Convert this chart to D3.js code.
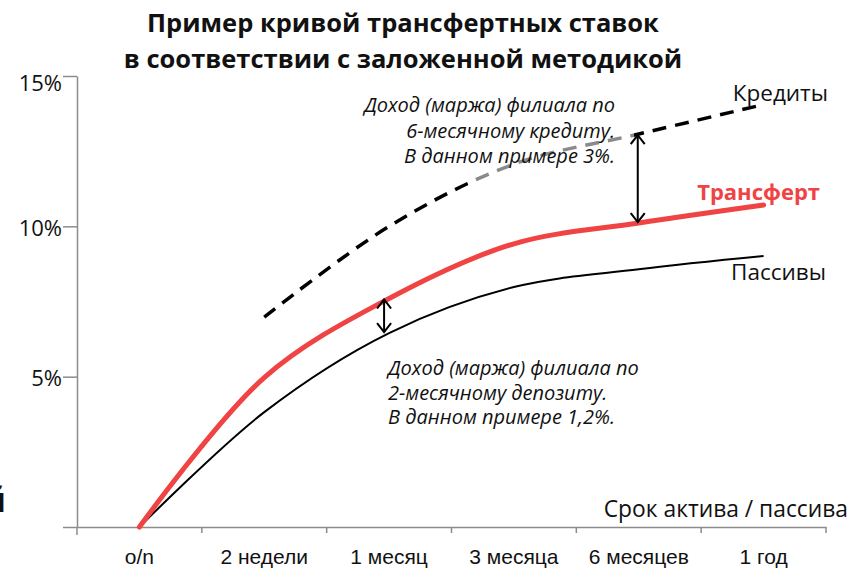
<!DOCTYPE html>
<html lang="ru">
<head>
<meta charset="utf-8">
<script src="https://d3js.org/d3.v7.min.js"></script>
<style>
  * { margin: 0; padding: 0; }
  body { background: #fff; }
  text { font-family: "Open Sans", sans-serif; fill: #111; }
  .tick text.xlab { font-family: "Liberation Sans", Arial, sans-serif; }
</style>
</head>
<body>
<script>
const categories = ['o/n', '2 недели', '1 месяц', '3 месяца', '6 месяцев', '1 год'];
const transferRates = [0, 4.97, 7.6, 9.42, 10.11, 10.71];
const liabilityRates = [0, 3.82, 6.45, 7.98, 8.57, 9.01];
const creditRates = [null, 6.98, 10.0, 12.07, 13.07, 14.05];
const yTicks = [0, 5, 10, 15];
const titleLines = ['Пример кривой трансфертных ставок', 'в соответствии с заложенной методикой'];
const creditNote = ['Доход (маржа) филиала по', '6-месячному кредиту.', 'В данном примере 3%.'];
const depositNote = ['Доход (маржа) филиала по', '2-месячному депозиту.', 'В данном примере 1,2%.'];

const width = 850, height = 570;
const axisColor = '#8c8c8c';
const red = '#f04444';

const svg = d3.select('body').append('svg')
  .attr('width', width)
  .attr('height', height);

const x = d3.scaleBand().domain(categories).range([77, 826]);
const xc = d => x(d) + x.bandwidth() / 2;
const y = d3.scaleLinear().domain([0, 15]).range([527, 76]);

// title
svg.append('g').selectAll('text')
  .data(titleLines)
  .join('text')
  .attr('x', 403)
  .attr('y', (d, i) => 32 + i * 36)
  .attr('text-anchor', 'middle')
  .attr('font-weight', 'bold')
  .attr('font-size', 25.5)
  .text(d => d);

// label cut off by the left edge (as in the source slide)
svg.append('text')
  .attr('x', 6).attr('y', 512)
  .attr('text-anchor', 'end')
  .attr('font-weight', 'bold')
  .attr('font-size', 34)
  .text('й');

// y axis
const yAxis = svg.append('g')
  .attr('transform', 'translate(77,0)')
  .call(d3.axisLeft(y).tickValues(yTicks).tickSize(14).tickSizeOuter(0).tickPadding(1)
    .tickFormat(d => d ? d + '%' : ''));
yAxis.selectAll('path, line').attr('stroke', axisColor).attr('stroke-width', 1.5);
yAxis.selectAll('text')
  .attr('font-size', 22)
  .attr('font-family', '"Open Sans", sans-serif')
  .attr('fill', '#111')
  .attr('dy', d => d === 15 ? '0.68em' : '0.4em');

// x axis
const xAxis = svg.append('g')
  .attr('transform', 'translate(0,527)')
  .call(d3.axisBottom(x).tickSize(0).tickSizeOuter(0).tickPadding(22));
xAxis.select('.domain').attr('stroke', axisColor).attr('stroke-width', 1.5);
xAxis.selectAll('text')
  .attr('class', 'xlab')
  .attr('font-size', 21)
  .attr('fill', '#111');

// category boundary ticks
svg.append('g').selectAll('line')
  .data(categories.map(x).concat([x.range()[1]]))
  .join('line')
  .attr('x1', d => d).attr('x2', d => d)
  .attr('y1', 527).attr('y2', (d, i) => i === 0 ? 535 : 533)
  .attr('stroke', axisColor)
  .attr('stroke-width', 1.5);

svg.append('text')
  .attr('x', 848).attr('y', 517)
  .attr('text-anchor', 'end')
  .attr('font-size', 22.8)
  .text('Срок актива / пассива');

// lines
const line = d3.line()
  .defined(d => d.v != null)
  .x(d => xc(d.c))
  .y(d => y(d.v))
  .curve(d3.curveCatmullRom.alpha(0.5));
const rows = arr => categories.map((c, i) => ({ c, v: arr[i] }));

// credit line: grey between 1 and 6 months
const grayFrom = xc(categories[2]) + x.step() * 0.63;
const grayTo = xc(categories[4]) - 5;
const grad = svg.append('defs').append('linearGradient')
  .attr('id', 'creditStroke')
  .attr('gradientUnits', 'userSpaceOnUse')
  .attr('x1', 0).attr('x2', width).attr('y1', 0).attr('y2', 0);
[[0, '#000'], [grayFrom, '#000'], [grayFrom, '#8a8a8a'], [grayTo, '#8a8a8a'], [grayTo, '#000'], [width, '#000']]
  .forEach(([o, c]) => grad.append('stop').attr('offset', o / width).attr('stop-color', c));

svg.append('path')
  .attr('d', line(rows(creditRates)))
  .attr('fill', 'none')
  .attr('stroke', 'url(#creditStroke)')
  .attr('stroke-width', 3.5)
  .attr('stroke-dasharray', '14,9');

svg.append('path')
  .attr('d', line(rows(liabilityRates)))
  .attr('fill', 'none')
  .attr('stroke', '#000')
  .attr('stroke-width', 2);

svg.append('path')
  .attr('d', line(rows(transferRates)))
  .attr('fill', 'none')
  .attr('stroke', red)
  .attr('stroke-width', 5)
  .attr('stroke-linecap', 'round');

// series labels
svg.append('text').attr('x', 828).attr('y', 101).attr('text-anchor', 'end')
  .attr('font-size', 22.5).text('Кредиты');
svg.append('text').attr('x', 820).attr('y', 200).attr('text-anchor', 'end')
  .attr('font-size', 22).attr('font-weight', 'bold').style('fill', red).text('Трансферт');
svg.append('text').attr('x', 826).attr('y', 280).attr('text-anchor', 'end')
  .attr('font-size', 22.5).text('Пассивы');

// double arrows
svg.append('defs').append('marker')
  .attr('id', 'chev')
  .attr('viewBox', '-10 -8 12 16')
  .attr('refX', 0).attr('refY', 0)
  .attr('markerWidth', 12).attr('markerHeight', 16)
  .attr('markerUnits', 'userSpaceOnUse')
  .attr('orient', 'auto-start-reverse')
  .append('path')
  .attr('d', 'M-9,-7L0,0L-9,7')
  .attr('fill', 'none')
  .attr('stroke', '#000')
  .attr('stroke-width', 2);

const arrows = [
  { c: categories[2], from: transferRates[2], to: liabilityRates[2], dx: -5 },
  { c: categories[4], from: creditRates[4], to: transferRates[4], dx: -1 }
];
svg.append('g').selectAll('line')
  .data(arrows)
  .join('line')
  .attr('x1', d => xc(d.c) + d.dx).attr('x2', d => xc(d.c) + d.dx)
  .attr('y1', d => y(d.from) + 1).attr('y2', d => y(d.to) - 1)
  .attr('stroke', '#000')
  .attr('stroke-width', 2)
  .attr('marker-start', 'url(#chev)')
  .attr('marker-end', 'url(#chev)');

// notes
svg.append('g').selectAll('text')
  .data(creditNote)
  .join('text')
  .attr('x', 615)
  .attr('y', (d, i) => 112 + i * 25.5)
  .attr('text-anchor', 'end')
  .attr('font-style', 'italic')
  .attr('font-size', 20)
  .text(d => d);

svg.append('g').selectAll('text')
  .data(depositNote)
  .join('text')
  .attr('x', 388)
  .attr('y', (d, i) => 375 + i * 24.5)
  .attr('font-style', 'italic')
  .attr('font-size', 20)
  .text(d => d);
</script>
</body>
</html>
